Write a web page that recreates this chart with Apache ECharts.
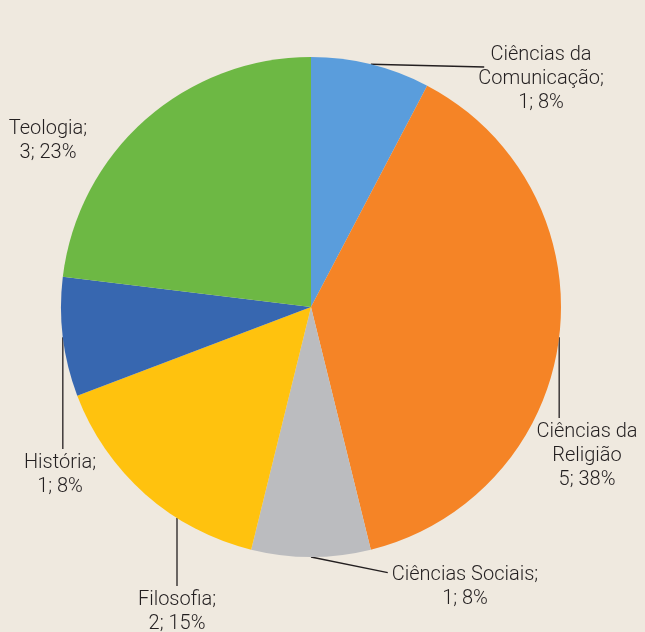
<!DOCTYPE html>
<html>
<head>
<meta charset="utf-8">
<script src="https://cdn.jsdelivr.net/npm/echarts@6/dist/echarts.min.js"></script>
<style>
  html, body { margin: 0; padding: 0; background: #efe9df; }
  #tu1 { width: 645px; height: 632px; }
</style>
</head>
<body>
<div id="tu1"></div>
<script>
    // dados
    var categorias = ['Ciências da\nComunicação;', 'Ciências da\nReligião', 'Ciências Sociais;', 'Filosofia;', 'História;', 'Teologia;'];
    var valores = [1, 5, 1, 2, 1, 3];
    var cores = ['#5a9ddc', '#f58426', '#bbbcbf', '#ffc20e', '#3767b0', '#6db844'];
    // centro do texto de cada rótulo
    var posRotulos = [[541, 79], [587, 456], [465, 587], [177, 612], [60, 475], [48, 141]];
    // tipo de linha: 'lado' = até a esquerda do rótulo, 'meio' = vertical do meio da fatia,
    // 'centro' = vertical no centro do rótulo, null = sem linha
    var tipoLinha = ['lado', 'meio', 'lado', 'centro', 'meio', null];

    var centro = [311, 307];
    var raio = 250;
    var altLinha = 24;

    var total = valores.reduce(function (a, b) { return a + b; }, 0);

    var myChart1 = echarts.init(document.getElementById('tu1'));

    var dados = categorias.map(function (nome, i) {
        return {
            name: nome,
            value: valores[i],
            itemStyle: { color: cores[i] },
            labelLine: { show: tipoLinha[i] != null }
        };
    });

    var option1 = {
        backgroundColor: '#efe9df',
        animation: false,
        series: [{
            type: 'pie',
            center: centro,
            radius: [0, raio],
            startAngle: 90,
            clockwise: true,
            data: dados,
            label: {
                show: true,
                position: 'outside',
                overflow: 'none',
                fontFamily: 'Roboto, Liberation Sans, sans-serif',
                fontWeight: 300,
                fontSize: 20,
                lineHeight: altLinha,
                color: '#231f20',
                align: 'center',
                formatter: function (p) {
                    return p.name + '\n' + p.value + '; ' + Math.round(p.value / total * 100) + '%';
                }
            },
            labelLine: {
                show: true,
                length: 10,
                length2: 0,
                lineStyle: { color: '#231f20', width: 1.3 }
            },
            labelLayout: function (params) {
                var i = params.dataIndex;
                var p = posRotulos[i];
                var w = params.labelRect.width, h = params.labelRect.height;
                var topo = p[1] - h / 2, esq = p[0] - w / 2;
                var ini = params.labelLinePoints ? params.labelLinePoints[0] : null;
                var pts;
                if (tipoLinha[i] === 'lado' && ini) {
                    // comunicação: entre as duas linhas; sociais: antes do texto
                    pts = i === 0 ? [ini, [esq + 6, topo + altLinha]] : [ini, [esq - 4, topo + altLinha * 0.4]];
                } else if (tipoLinha[i] === 'meio' && ini) {
                    pts = [ini, [ini[0], topo - 2]];
                } else if (tipoLinha[i] === 'centro') {
                    var dx = p[0] - centro[0];
                    var yC = centro[1] + Math.sqrt(raio * raio - dx * dx);
                    pts = [[p[0], yC], [p[0], topo - 2]];
                }
                var r = {
                    x: p[0],
                    y: p[1],
                    align: 'center',
                    verticalAlign: 'middle'
                };
                if (pts) r.labelLinePoints = pts;
                return r;
            }
        }]
    };
    myChart1.setOption(option1);
</script>
</body>
</html>
